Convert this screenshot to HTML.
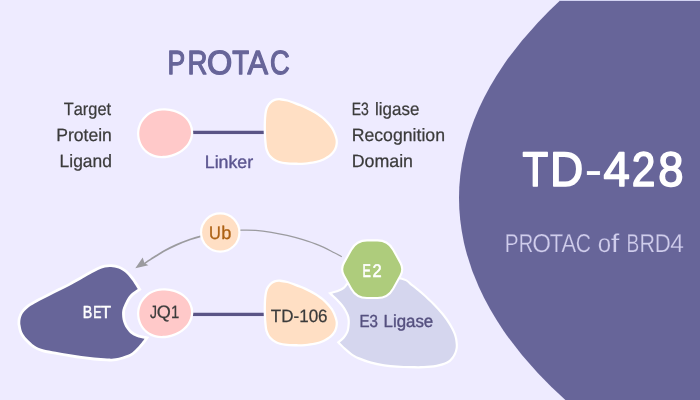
<!DOCTYPE html>
<html lang="en">
<head>
<meta charset="utf-8">
<title>TD-428 PROTAC of BRD4</title>
<style>
html,body{margin:0;padding:0;background:#eeebff;}
body{width:700px;height:400px;overflow:hidden;position:relative;}
svg{will-change:transform;position:absolute;left:0;top:0;display:block;}
text{font-family:"Liberation Sans",sans-serif;font-kerning:none;white-space:pre;text-rendering:geometricPrecision;}
</style>
</head>
<body>
<svg width="700" height="400" viewBox="0 0 700 400">
<rect width="700" height="400" fill="#eeebff"/>
<ellipse cx="1493.5" cy="197.8" rx="1034.5" ry="457.7" fill="#676599"/>
<rect x="559.6" y="0" width="141" height="1" fill="#d3d3f2"/>
<rect x="192.5" y="130.75" width="72" height="3.3" fill="#5a5486"/>
<path d="M139.27,133.30 C139.33,130.05 140.21,126.50 141.61,123.61 C143.01,120.72 145.26,117.96 147.66,115.96 C150.06,113.96 153.12,112.50 156.01,111.59 C158.90,110.68 162.03,110.42 165.00,110.48 C167.97,110.54 170.97,111.01 173.85,111.94 C176.72,112.87 179.76,114.13 182.25,116.05 C184.74,117.97 187.32,120.58 188.78,123.45 C190.24,126.33 191.14,130.07 191.00,133.30 C190.86,136.53 189.57,140.08 187.96,142.81 C186.35,145.54 183.77,147.83 181.36,149.66 C178.95,151.49 176.21,152.74 173.48,153.77 C170.75,154.80 167.93,155.59 165.00,155.84 C162.07,156.09 158.84,156.10 155.89,155.30 C152.94,154.50 149.72,153.05 147.28,151.02 C144.84,148.99 142.59,146.08 141.26,143.13 C139.92,140.18 139.21,136.55 139.27,133.30 Z" fill="#ffc9c9" stroke="#fff" stroke-width="4.6" stroke-linejoin="round" stroke-miterlimit="3" paint-order="stroke fill"/>
<path d="M266.00,132.00 C265.93,129.00 265.90,125.00 266.00,122.00 C266.10,119.00 266.27,116.33 266.60,114.00 C266.93,111.67 267.27,109.73 268.00,108.00 C268.73,106.27 269.83,104.77 271.00,103.60 C272.17,102.43 273.50,101.53 275.00,101.00 C276.50,100.47 278.00,100.30 280.00,100.40 C282.00,100.50 284.50,100.93 287.00,101.60 C289.50,102.27 292.00,103.27 295.00,104.40 C298.00,105.53 301.67,106.83 305.00,108.40 C308.33,109.97 311.83,111.80 315.00,113.80 C318.17,115.80 321.33,117.93 324.00,120.40 C326.67,122.87 329.18,125.77 331.00,128.60 C332.82,131.43 334.13,135.00 334.90,137.40 C335.67,139.80 335.75,141.07 335.60,143.00 C335.45,144.93 334.93,147.17 334.00,149.00 C333.07,150.83 331.83,152.43 330.00,154.00 C328.17,155.57 325.50,157.23 323.00,158.40 C320.50,159.57 318.00,160.33 315.00,161.00 C312.00,161.67 308.33,162.13 305.00,162.40 C301.67,162.67 298.33,162.67 295.00,162.60 C291.67,162.53 288.00,162.43 285.00,162.00 C282.00,161.57 279.33,161.07 277.00,160.00 C274.67,158.93 272.57,157.43 271.00,155.60 C269.43,153.77 268.37,151.60 267.60,149.00 C266.83,146.40 266.67,142.83 266.40,140.00 C266.13,137.17 266.07,135.00 266.00,132.00 Z" fill="#ffdfc4" stroke="#fff" stroke-width="4.6" stroke-linejoin="round" stroke-miterlimit="3" paint-order="stroke fill"/>
<path d="M341.80,256.60 C340.55,255.95 338.17,254.60 334.30,252.70 C330.43,250.80 323.83,247.37 318.60,245.20 C313.37,243.03 308.15,241.33 302.90,239.70 C297.65,238.07 292.35,236.63 287.10,235.40 C281.85,234.17 276.63,233.13 271.40,232.30 C266.17,231.47 260.67,230.75 255.70,230.40 C250.73,230.05 247.55,229.88 241.60,230.20 C235.65,230.52 227.00,231.23 220.00,232.30" fill="none" stroke="#9b9b9f" stroke-width="1.25"/>
<path d="M220.00,232.30 C213.00,233.37 204.72,235.35 199.60,236.60 C194.48,237.85 193.17,238.42 189.30,239.80 C185.43,241.18 180.68,242.98 176.40,244.90 C172.12,246.82 167.88,248.88 163.60,251.30 C159.32,253.72 153.92,257.35 150.70,259.40 C147.48,261.45 145.37,262.90 144.30,263.60" fill="none" stroke="#9b9b9f" stroke-width="1.7"/>
<path d="M135.3,268.2 L142.7,257.5 L144.4,263 L148.4,265.2 Z" fill="#9b9b9f"/>
<circle cx="220.25" cy="232.5" r="18.1" fill="#ffdfc4" stroke="#fff" stroke-width="4.4" paint-order="stroke fill"/>
<path d="M20.30,324.00 C20.35,323.17 20.15,320.83 20.60,319.00 C21.05,317.17 21.60,315.00 23.00,313.00 C24.40,311.00 26.67,308.80 29.00,307.00 C31.33,305.20 33.73,303.98 37.00,302.20 C40.27,300.42 44.77,298.23 48.60,296.30 C52.43,294.37 56.43,292.38 60.00,290.60 C63.57,288.82 66.67,287.37 70.00,285.60 C73.33,283.83 76.67,281.90 80.00,280.00 C83.33,278.10 87.00,275.87 90.00,274.20 C93.00,272.53 95.50,271.10 98.00,270.00 C100.50,268.90 102.83,268.10 105.00,267.60 C107.17,267.10 108.73,266.85 111.00,267.00 C113.27,267.15 116.22,267.57 118.60,268.50 C120.98,269.43 123.12,270.72 125.30,272.60 C127.48,274.48 129.62,277.07 131.70,279.80 C133.78,282.53 136.78,287.47 137.80,289.00 C136.73,289.77 133.15,291.98 131.40,293.60 C129.65,295.22 128.50,296.80 127.30,298.70 C126.10,300.60 125.02,303.12 124.20,305.00 C123.38,306.88 122.75,308.42 122.40,310.00 C122.05,311.58 122.07,312.92 122.10,314.50 C122.13,316.08 122.28,317.92 122.60,319.50 C122.92,321.08 123.42,322.58 124.00,324.00 C124.58,325.42 125.05,326.47 126.10,328.00 C127.15,329.53 128.57,331.73 130.30,333.20 C132.03,334.67 134.13,335.87 136.50,336.80 C138.87,337.73 143.17,338.47 144.50,338.80 C143.98,339.50 142.98,341.15 141.40,343.00 C139.82,344.85 137.13,348.00 135.00,349.90 C132.87,351.80 131.82,353.00 128.60,354.40 C125.38,355.80 119.28,357.62 115.70,358.30 C112.12,358.98 110.67,358.62 107.10,358.50 C103.53,358.38 98.58,358.02 94.30,357.60 C90.02,357.18 85.68,356.60 81.40,356.00 C77.12,355.40 72.88,354.70 68.60,354.00 C64.32,353.30 59.98,352.58 55.70,351.80 C51.42,351.02 46.45,350.35 42.90,349.30 C39.35,348.25 37.10,347.28 34.40,345.50 C31.70,343.72 28.73,340.83 26.70,338.60 C24.67,336.37 23.27,334.53 22.20,332.10 C21.13,329.67 20.62,325.35 20.30,324.00 Z" fill="#676599" stroke="#fff" stroke-width="5.6" stroke-linejoin="miter" stroke-miterlimit="3" paint-order="stroke fill"/>
<rect x="192.5" y="312.75" width="72" height="3.3" fill="#5a5486"/>
<path d="M139.27,313.30 C139.33,310.05 140.21,306.50 141.61,303.61 C143.01,300.72 145.26,297.96 147.66,295.96 C150.06,293.96 153.12,292.50 156.01,291.59 C158.90,290.68 162.03,290.42 165.00,290.48 C167.97,290.54 170.97,291.01 173.85,291.94 C176.72,292.87 179.76,294.13 182.25,296.05 C184.74,297.97 187.32,300.57 188.78,303.45 C190.24,306.32 191.14,310.07 191.00,313.30 C190.86,316.53 189.57,320.08 187.96,322.81 C186.35,325.54 183.77,327.83 181.36,329.66 C178.95,331.49 176.21,332.74 173.48,333.77 C170.75,334.80 167.93,335.59 165.00,335.84 C162.07,336.10 158.84,336.10 155.89,335.30 C152.94,334.50 149.72,333.05 147.28,331.02 C144.84,328.99 142.59,326.08 141.26,323.13 C139.92,320.18 139.21,316.55 139.27,313.30 Z" fill="#ffc9c9" stroke="#fff" stroke-width="4.6" stroke-linejoin="round" stroke-miterlimit="3" paint-order="stroke fill"/>
<path d="M266.00,313.50 C265.93,310.50 265.90,306.50 266.00,303.50 C266.10,300.50 266.27,297.83 266.60,295.50 C266.93,293.17 267.27,291.23 268.00,289.50 C268.73,287.77 269.83,286.27 271.00,285.10 C272.17,283.93 273.50,283.03 275.00,282.50 C276.50,281.97 278.00,281.80 280.00,281.90 C282.00,282.00 284.50,282.43 287.00,283.10 C289.50,283.77 292.00,284.77 295.00,285.90 C298.00,287.03 301.67,288.33 305.00,289.90 C308.33,291.47 311.83,293.30 315.00,295.30 C318.17,297.30 321.33,299.43 324.00,301.90 C326.67,304.37 329.18,307.27 331.00,310.10 C332.82,312.93 334.13,316.50 334.90,318.90 C335.67,321.30 335.75,322.57 335.60,324.50 C335.45,326.43 334.93,328.67 334.00,330.50 C333.07,332.33 331.83,333.93 330.00,335.50 C328.17,337.07 325.50,338.73 323.00,339.90 C320.50,341.07 318.00,341.83 315.00,342.50 C312.00,343.17 308.33,343.63 305.00,343.90 C301.67,344.17 298.33,344.17 295.00,344.10 C291.67,344.03 288.00,343.93 285.00,343.50 C282.00,343.07 279.33,342.57 277.00,341.50 C274.67,340.43 272.57,338.93 271.00,337.10 C269.43,335.27 268.37,333.10 267.60,330.50 C266.83,327.90 266.67,324.33 266.40,321.50 C266.13,318.67 266.07,316.50 266.00,313.50 Z" fill="#ffdfc4" stroke="#fff" stroke-width="4.6" stroke-linejoin="round" stroke-miterlimit="3" paint-order="stroke fill"/>
<path d="M347.60,285.00 C351.67,283.50 362.98,276.87 372.00,276.00 C381.02,275.13 395.25,278.20 401.70,279.80 C408.15,281.40 408.13,283.82 410.70,285.60 C413.27,287.38 415.13,288.93 417.10,290.50 C419.07,292.07 419.85,292.58 422.50,295.00 C425.15,297.42 429.75,301.67 433.00,305.00 C436.25,308.33 439.33,311.67 442.00,315.00 C444.67,318.33 447.00,321.67 449.00,325.00 C451.00,328.33 452.88,331.78 454.00,335.00 C455.12,338.22 455.53,341.68 455.70,344.30 C455.87,346.92 455.65,348.57 455.00,350.70 C454.35,352.83 453.18,355.28 451.80,357.10 C450.42,358.92 449.27,360.32 446.70,361.60 C444.13,362.88 440.25,364.05 436.40,364.80 C432.55,365.55 427.88,365.88 423.60,366.10 C419.32,366.32 415.12,366.20 410.70,366.10 C406.28,366.00 401.50,365.82 397.10,365.50 C392.70,365.18 388.58,364.85 384.30,364.20 C380.02,363.55 375.68,362.78 371.40,361.60 C367.12,360.42 361.82,358.45 358.60,357.10 C355.38,355.75 354.25,355.00 352.10,353.50 C349.95,352.00 347.73,349.95 345.70,348.10 C343.67,346.25 340.87,343.35 339.90,342.40 C340.68,341.70 343.18,339.93 344.60,338.20 C346.02,336.47 347.57,334.03 348.40,332.00 C349.23,329.97 349.37,328.00 349.60,326.00 C349.83,324.00 349.97,321.92 349.80,320.00 C349.63,318.08 349.47,316.68 348.60,314.50 C347.73,312.32 346.33,309.40 344.60,306.90 C342.87,304.40 340.27,301.68 338.20,299.50 C336.13,297.32 333.20,294.75 332.20,293.80 C333.38,293.43 337.27,292.43 339.30,291.60 C341.33,290.77 343.02,289.90 344.40,288.80 C345.78,287.70 347.07,285.63 347.60,285.00 Z" fill="#d5d6ee" stroke="#fff" stroke-width="4.4" stroke-linejoin="miter" stroke-miterlimit="3" paint-order="stroke fill"/>
<path d="M344.82,275.01 A12,12 0 0 1 344.82,263.39 L352.15,250.16 A17,17 0 0 1 367.02,241.40 L377.38,241.40 A17,17 0 0 1 392.25,250.16 L399.58,263.39 A12,12 0 0 1 399.58,275.01 L392.25,288.24 A17,17 0 0 1 377.38,297.00 L367.02,297.00 A17,17 0 0 1 352.15,288.24 Z" fill="#aecc7c" stroke="#fff" stroke-width="4.2" stroke-linejoin="round" stroke-miterlimit="3" paint-order="stroke fill"/>
<g>
<text y="74.00" font-size="33.43" fill="#676599" stroke="#676599" stroke-width="1.3" stroke-linejoin="round"><tspan x="167.38" textLength="17.67" lengthAdjust="spacingAndGlyphs">P</tspan><tspan x="187.48" textLength="19.95" lengthAdjust="spacingAndGlyphs">R</tspan><tspan x="207.01" textLength="25.30" lengthAdjust="spacingAndGlyphs">O</tspan><tspan x="232.13" textLength="16.85" lengthAdjust="spacingAndGlyphs">T</tspan><tspan x="247.49" textLength="20.52" lengthAdjust="spacingAndGlyphs">A</tspan><tspan x="270.06" textLength="19.73" lengthAdjust="spacingAndGlyphs">C</tspan></text>
<text transform="translate(63.76 115.00) scale(0.9199 1)" font-size="17.81" fill="#3b3b3b" stroke="#3b3b3b" stroke-width="0.25" stroke-linejoin="round">Target</text>
<text transform="translate(56.28 141.00) scale(0.9861 1)" font-size="17.81" fill="#3b3b3b" stroke="#3b3b3b" stroke-width="0.25" stroke-linejoin="round">Protein</text>
<text transform="translate(59.60 167.00) scale(0.9782 1)" font-size="17.81" fill="#3b3b3b" stroke="#3b3b3b" stroke-width="0.25" stroke-linejoin="round">Ligand</text>
<text y="115.00" font-size="17.81" fill="#3b3b3b" stroke="#3b3b3b" stroke-width="0.25" stroke-linejoin="round"><tspan x="351.78" textLength="17.11" lengthAdjust="spacingAndGlyphs">E3</tspan> <tspan x="375.08" textLength="44.24" lengthAdjust="spacingAndGlyphs">ligase</tspan></text>
<text transform="translate(351.68 141.00) scale(0.9927 1)" font-size="17.81" fill="#3b3b3b" stroke="#3b3b3b" stroke-width="0.25" stroke-linejoin="round">Recognition</text>
<text transform="translate(351.66 167.00) scale(1.0002 1)" font-size="17.81" fill="#3b3b3b" stroke="#3b3b3b" stroke-width="0.25" stroke-linejoin="round">Domain</text>
<text transform="translate(204.74 168.00) scale(1.0032 1)" font-size="17.73" fill="#5c5690" stroke="#5c5690" stroke-width="0.4" stroke-linejoin="round">Linker</text>
<text y="239.00" font-size="18.31" fill="#ad6214" stroke="#ad6214" stroke-width="0.3" stroke-linejoin="round"><tspan x="208.99" textLength="11.83" lengthAdjust="spacingAndGlyphs">U</tspan><tspan x="221.37" textLength="10.14" lengthAdjust="spacingAndGlyphs">b</tspan></text>
<text y="318.00" font-size="17.59" fill="#ffffff" stroke="#ffffff" stroke-width="0.5" stroke-linejoin="round"><tspan x="82.78" textLength="9.52" lengthAdjust="spacingAndGlyphs">B</tspan><tspan x="93.24" textLength="8.25" lengthAdjust="spacingAndGlyphs">E</tspan><tspan x="100.87" textLength="10.37" lengthAdjust="spacingAndGlyphs">T</tspan></text>
<text y="318.00" font-size="17.95" fill="#3b3b3b" stroke="#3b3b3b" stroke-width="0.25" stroke-linejoin="round"><tspan x="150.11" textLength="7.01" lengthAdjust="spacingAndGlyphs">J</tspan><tspan x="156.87" textLength="14.07" lengthAdjust="spacingAndGlyphs">Q</tspan><tspan x="170.89" textLength="8.32" lengthAdjust="spacingAndGlyphs">1</tspan></text>
<text transform="translate(270.84 322.00) scale(0.9486 1)" font-size="17.95" fill="#3b3b3b" stroke="#3b3b3b" stroke-width="0.25" stroke-linejoin="round">TD-106</text>
<text y="277.00" font-size="18.31" fill="#ffffff" stroke="#ffffff" stroke-width="0.6" stroke-linejoin="round"><tspan x="362.47" textLength="8.37" lengthAdjust="spacingAndGlyphs">E</tspan><tspan x="372.47" textLength="9.16" lengthAdjust="spacingAndGlyphs">2</tspan></text>
<text y="327.00" font-size="17.44" fill="#55507f" stroke="#55507f" stroke-width="0.4" stroke-linejoin="round"><tspan x="359.46" textLength="18.51" lengthAdjust="spacingAndGlyphs">E3</tspan> <tspan x="383.57" textLength="49.68" lengthAdjust="spacingAndGlyphs">Ligase</tspan></text>
<text y="186.00" font-size="48.69" fill="#ffffff" stroke="#ffffff" stroke-width="1.6" stroke-linejoin="round"><tspan x="522.55" textLength="25.71" lengthAdjust="spacingAndGlyphs">T</tspan><tspan x="550.12" textLength="33.29" lengthAdjust="spacingAndGlyphs">D</tspan><tspan x="584.72" textLength="17.46" lengthAdjust="spacingAndGlyphs" stroke-width="0.3">-</tspan><tspan x="603.42" textLength="26.27" lengthAdjust="spacingAndGlyphs">4</tspan><tspan x="631.66" textLength="23.68" lengthAdjust="spacingAndGlyphs">2</tspan><tspan x="658.23" textLength="25.25" lengthAdjust="spacingAndGlyphs">8</tspan></text>
<text y="252.00" font-size="25.80" fill="#d0cdec" stroke="#676599" stroke-width="0.25" stroke-linejoin="round" paint-order="fill stroke"><tspan x="504.77" textLength="13.85" lengthAdjust="spacingAndGlyphs">P</tspan><tspan x="518.64" textLength="14.41" lengthAdjust="spacingAndGlyphs">R</tspan><tspan x="532.13" textLength="18.74" lengthAdjust="spacingAndGlyphs">O</tspan><tspan x="549.78" textLength="13.34" lengthAdjust="spacingAndGlyphs">T</tspan><tspan x="561.43" textLength="14.64" lengthAdjust="spacingAndGlyphs">A</tspan><tspan x="575.80" textLength="15.22" lengthAdjust="spacingAndGlyphs">C</tspan> <tspan x="597.77" textLength="13.37" lengthAdjust="spacingAndGlyphs">o</tspan><tspan x="610.84" textLength="8.54" lengthAdjust="spacingAndGlyphs">f</tspan> <tspan x="626.51" textLength="12.72" lengthAdjust="spacingAndGlyphs">B</tspan><tspan x="639.51" textLength="15.51" lengthAdjust="spacingAndGlyphs">R</tspan><tspan x="654.75" textLength="16.03" lengthAdjust="spacingAndGlyphs">D</tspan><tspan x="670.31" textLength="13.63" lengthAdjust="spacingAndGlyphs">4</tspan></text>
</g>
</svg>
</body>
</html>
